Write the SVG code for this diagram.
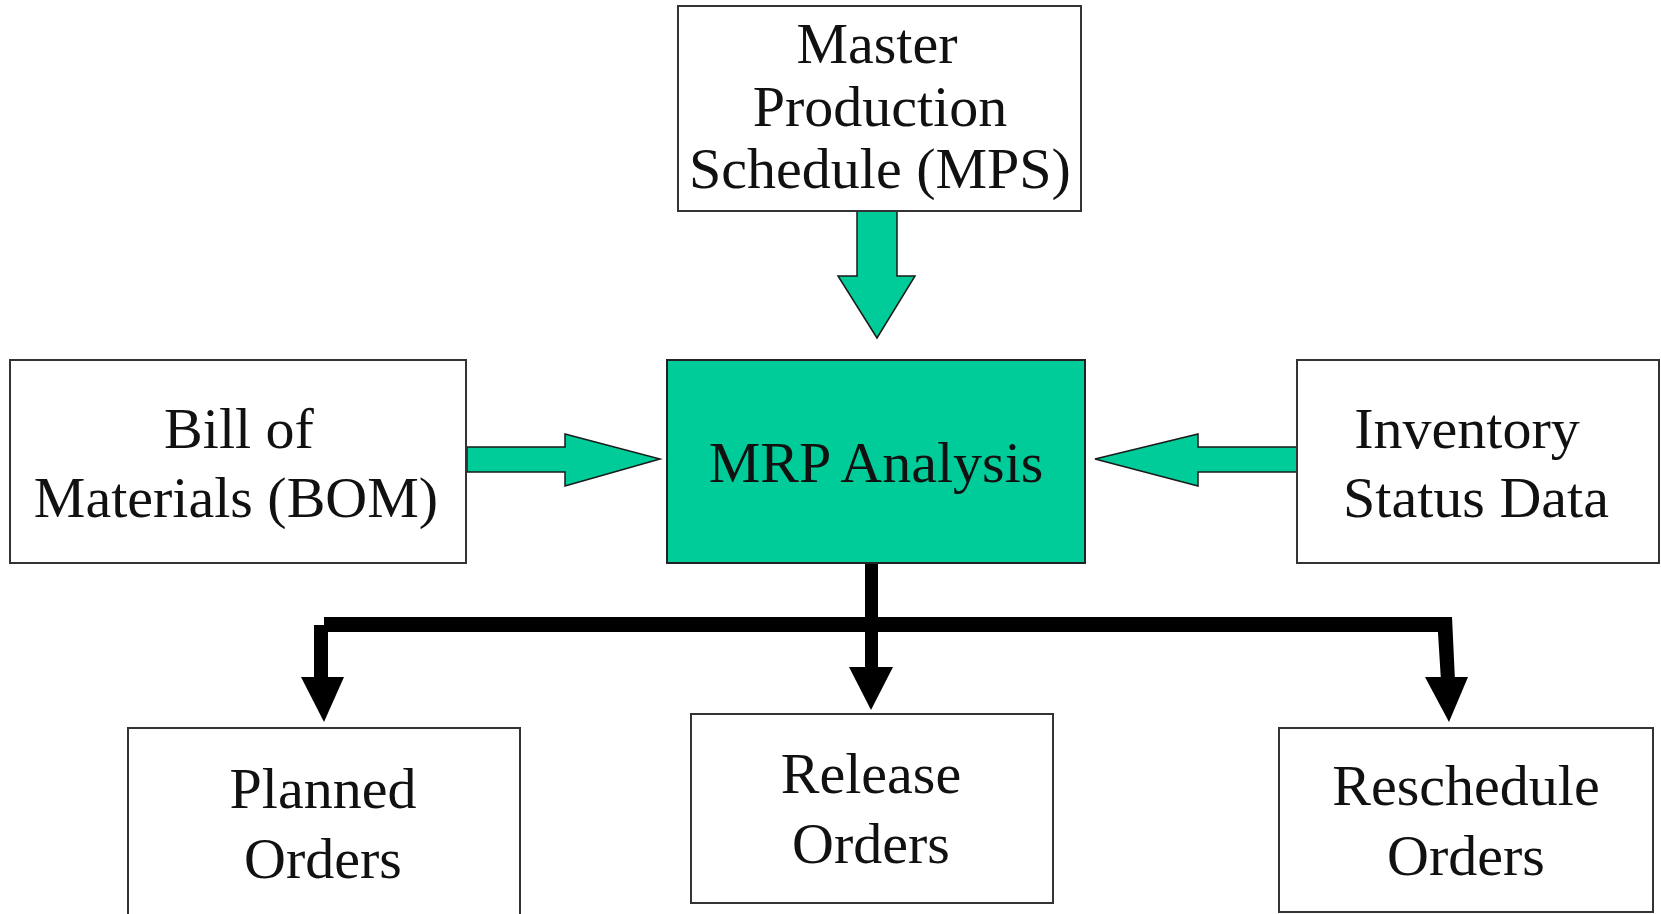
<svg xmlns="http://www.w3.org/2000/svg" width="1661" height="914" viewBox="0 0 1661 914">
<style>
.box{fill:#ffffff;stroke:#333333;stroke-width:2}
.mrp{fill:#00cc99;stroke:#222222;stroke-width:2}
.t{font-family:"Liberation Serif","Times New Roman",serif;font-size:58px;fill:#111111;text-anchor:middle}
.tarrow{fill:#00cc99;stroke:#1a1a1a;stroke-width:1.5;stroke-linejoin:miter}
.blk{fill:#000000}
</style>
<rect width="1661" height="914" fill="#ffffff"/>
<g id="connectors">
<polygon class="tarrow" points="857,211 897,211 897,276 915,276 877,338 838,276 857,276"/>
<polygon class="tarrow" points="467,447 565,447 565,434 660,459 565,486 565,472 467,472"/>
<polygon class="tarrow" points="1297,447 1198,447 1198,434 1095,459 1198,486 1198,472 1297,472"/>
<rect class="blk" x="324" y="617" width="1128" height="15"/>
<rect class="blk" x="314" y="625" width="14" height="56"/>
<polygon class="blk" points="301,677 344,677 324,722"/>
<rect class="blk" x="865" y="563" width="13" height="108"/>
<polygon class="blk" points="849,667 893,667 871,710"/>
<polygon class="blk" points="1437,617 1452,617 1455,681 1441,681"/>
<polygon class="blk" points="1425,677 1468,677 1449,722"/>
</g>
<g id="mps">
<rect class="box" x="678" y="6" width="403" height="205"/>
<text class="t" x="877" y="63">Master</text>
<text class="t" x="880" y="126">Production</text>
<text class="t" x="880" y="188">Schedule (MPS)</text>
</g>
<g id="bom">
<rect class="box" x="10" y="360" width="456" height="203"/>
<text class="t" x="239" y="448">Bill of</text>
<text class="t" x="236" y="517">Materials (BOM)</text>
</g>
<g id="mrp">
<rect class="mrp" x="667" y="360" width="418" height="203"/>
<text class="t" x="876" y="482">MRP Analysis</text>
</g>
<g id="inventory">
<rect class="box" x="1297" y="360" width="362" height="203"/>
<text class="t" x="1467" y="448">Inventory</text>
<text class="t" x="1476" y="517">Status Data</text>
</g>
<g id="planned">
<rect class="box" x="128" y="728" width="392" height="190"/>
<text class="t" x="323" y="808">Planned</text>
<text class="t" x="323" y="878">Orders</text>
</g>
<g id="release">
<rect class="box" x="691" y="714" width="362" height="189"/>
<text class="t" x="871" y="793">Release</text>
<text class="t" x="871" y="863">Orders</text>
</g>
<g id="reschedule">
<rect class="box" x="1279" y="728" width="374" height="184"/>
<text class="t" x="1466" y="805">Reschedule</text>
<text class="t" x="1466" y="875">Orders</text>
</g>
</svg>
